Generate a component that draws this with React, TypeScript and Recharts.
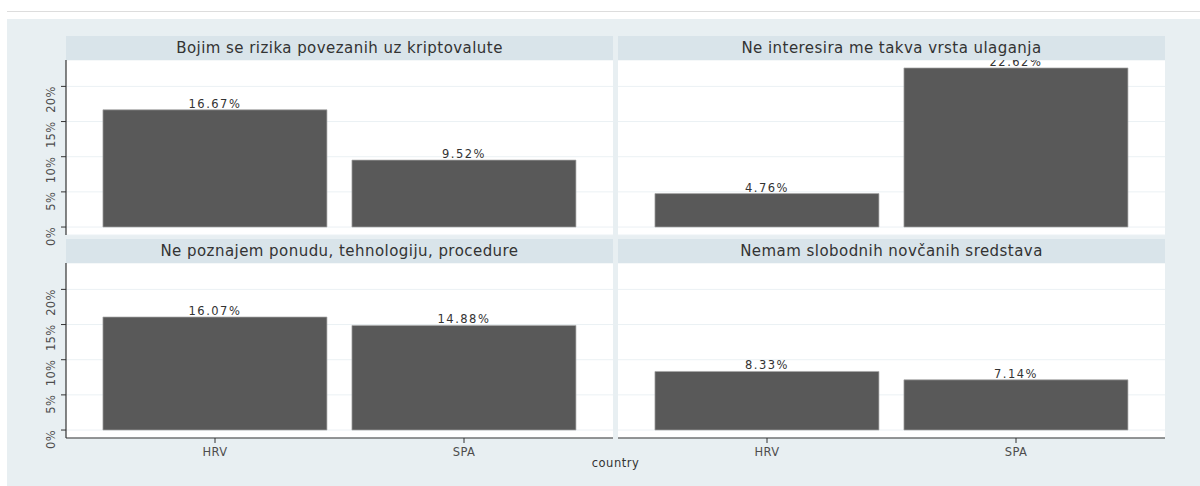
import React from "react";
import { BarChart, Bar, XAxis, YAxis, CartesianGrid, LabelList } from "recharts";

// facet titles, in panel order (top-left, top-right, bottom-left, bottom-right)
const panelTitles = [
  "Bojim se rizika povezanih uz kriptovalute",
  "Ne interesira me takva vrsta ulaganja",
  "Ne poznajem ponudu, tehnologiju, procedure",
  "Nemam slobodnih novčanih sredstava",
];
const countries = ["HRV", "SPA"];
const hrvValues = [16.67, 4.76, 16.07, 8.33];
const spaValues = [9.52, 22.62, 14.88, 7.14];
const yTicks = [0, 5, 10, 15, 20];

const FONT = "DejaVu Sans";
const maxVal = Math.max(...hrvValues, ...spaValues);
const yDomain = [-maxVal * 0.05, maxVal * 1.05];

const panelRows = panelTitles.map((_, i) =>
  countries.map((c, j) => ({ country: c, value: j === 0 ? hrvValues[i] : spaValues[i] }))
);

const PLOT_W = 547;
const PLOT_H = 175;
const LEFT_X = [66, 618];
const TOP_Y = [60, 263];
const STRIP_H = 24;

const YTick = (props: any) => {
  const { x, y, payload } = props;
  return (
    <text
      x={x}
      y={y}
      transform={`rotate(-90 ${x} ${y})`}
      textAnchor="end"
      fontSize={11.5}
      fontFamily={FONT}
      letterSpacing={0.3}
      fill="#4d4d4d"
    >
      {payload.value}%
    </text>
  );
};

function Panel({ idx }: { idx: number }) {
  const col = idx % 2;
  const row = Math.floor(idx / 2);
  const showY = col === 0;
  const showX = row === 1;
  const left = showY ? 0 : LEFT_X[1];
  const width = showY ? LEFT_X[0] + PLOT_W : PLOT_W;
  const xAxisH = showX ? 30 : 0;
  const bottomPad = showX ? 0 : 15;
  const height = PLOT_H + xAxisH + bottomPad;

  return (
    <div style={{ position: "absolute", left, top: TOP_Y[row], width, height }}>
      <BarChart
        width={width}
        height={height}
        data={panelRows[idx]}
        margin={{ top: 0, right: 0, bottom: bottomPad, left: showY ? 20 : 0 }}
        barCategoryGap="5%"
      >
        <CartesianGrid
          vertical={false}
          fill="#ffffff"
          stroke="#ebf1f4"
          strokeWidth={1}
        />
        <XAxis
          dataKey="country"
          type="category"
          hide={!showX}
          height={xAxisH}
          padding={{ left: 24.5, right: 24.5 }}
          axisLine={{ stroke: "#333333", strokeWidth: 1.2 }}
          tickLine={{ stroke: "#333333" }}
          tickSize={5}
          tickMargin={5}
          tick={{ fontSize: 11.5, fontFamily: FONT, fill: "#4d4d4d", letterSpacing: 0.4 }}
        />
        <YAxis
          type="number"
          domain={yDomain}
          ticks={yTicks}
          allowDataOverflow
          hide={!showY}
          width={46}
          axisLine={{ stroke: "#333333", strokeWidth: 1.2 }}
          tickLine={{ stroke: "#333333" }}
          tickSize={5}
          tickMargin={6}
          tick={<YTick />}
        />
        <Bar
          dataKey="value"
          fill="#595959"
          stroke="#a8a8a8"
          strokeWidth={0.7}
          isAnimationActive={false}
        >
          <LabelList
            dataKey="value"
            position="top"
            offset={2}
            fontSize={11.5}
            fontFamily={FONT}
            letterSpacing={1.5}
            fill="#333333"
            formatter={(v: any) => `${Number(v).toFixed(2)}%`}
          />
        </Bar>
      </BarChart>
    </div>
  );
}

export default function App() {
  return (
    <div
      style={{
        position: "absolute",
        left: 0,
        top: 0,
        width: 1200,
        height: 486,
        background: "#ffffff",
        overflow: "hidden",
        fontFamily: FONT,
      }}
    >
      <div style={{ position: "absolute", left: 7, top: 11, width: 1193, height: 1, background: "#dddddd" }} />
      <div style={{ position: "absolute", left: 7, top: 19, width: 1193, height: 467, background: "#e8eff2" }} />
      {panelTitles.map((_, i) => (
        <Panel key={i} idx={i} />
      ))}
      {panelTitles.map((t, i) => {
        const col = i % 2;
        const row = Math.floor(i / 2);
        return (
          <div
            key={t}
            style={{
              position: "absolute",
              left: LEFT_X[col],
              top: TOP_Y[row] - STRIP_H,
              width: PLOT_W,
              height: STRIP_H,
              background: "#d9e4ea",
              color: "#333333",
              fontSize: 15,
              letterSpacing: 0.45,
              lineHeight: `${STRIP_H}px`,
              textAlign: "center",
              zIndex: 2,
            }}
          >
            {t}
          </div>
        );
      })}
      <div
        style={{
          position: "absolute",
          left: LEFT_X[0],
          top: 456,
          width: LEFT_X[1] + PLOT_W - LEFT_X[0],
          textAlign: "center",
          fontSize: 11.5,
          letterSpacing: 0.5,
          color: "#333333",
        }}
      >
        country
      </div>
    </div>
  );
}
